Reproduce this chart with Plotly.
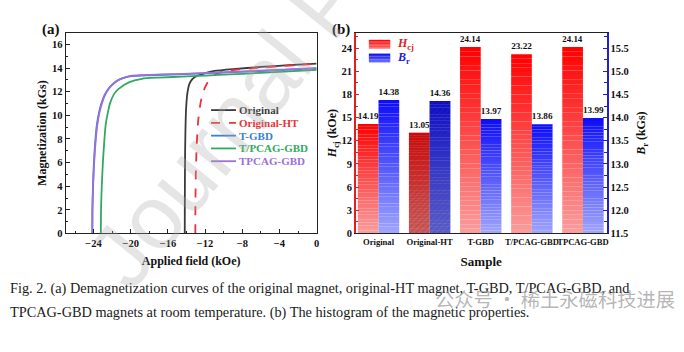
import plotly.graph_objects as go

# ---------------- data: panel (a) demagnetization curves ----------------
orig_H = [-14.19, -14.18, -14.15, -14.05, -13.9, -13.7, -13.4, -13.0, -12.5, -11.8, -11.0, -9.0, -6.0, -3.0, 0.0]
orig_M = [0.0, 3.0, 7.0, 10.5, 11.9, 12.65, 13.05, 13.3, 13.45, 13.62, 13.76, 13.92, 14.1, 14.25, 14.38]

ht_H = [-13.05, -13.04, -13.0, -12.9, -12.75, -12.5, -12.2, -11.8, -11.4, -10.8, -10.0, -8.0, -5.0, -2.0, 0.0]
ht_M = [0.0, 2.5, 5.0, 7.5, 9.5, 11.0, 12.0, 12.7, 13.15, 13.5, 13.72, 13.92, 14.1, 14.27, 14.36]

tgbd_H = [-24.14, -24.13, -24.07, -23.98, -23.84, -23.65, -23.4, -23.12, -22.8, -22.4, -21.95, -21.35, -20.65, -19.9, -18.0, -15.0, -11.0, -7.0, -3.0, 0.0]
tgbd_M = [0.0, 2.0, 4.0, 5.8, 7.6, 9.2, 10.3, 11.1, 11.75, 12.25, 12.65, 13.0, 13.2, 13.33, 13.4, 13.48, 13.6, 13.72, 13.87, 13.97]

tp_H = [-23.22, -23.2, -23.12, -23.0, -22.85, -22.7, -22.45, -22.2, -21.8, -21.3, -20.2, -18.8, -17.0, -14.0, -10.0, -6.0, -3.0, 0.0]
tp_M = [0.0, 2.0, 4.0, 6.0, 7.8, 9.2, 10.3, 11.1, 11.8, 12.25, 12.8, 13.1, 13.2, 13.3, 13.45, 13.6, 13.73, 13.86]

tpc_H = [-24.14, -24.12, -24.05, -23.95, -23.8, -23.6, -23.35, -23.07, -22.75, -22.36, -21.9, -21.3, -20.6, -19.86, -18.0, -15.0, -11.0, -7.0, -3.0, 0.0]
tpc_M = [0.0, 2.0, 4.0, 5.8, 7.6, 9.2, 10.3, 11.1, 11.75, 12.25, 12.65, 13.0, 13.22, 13.36, 13.43, 13.5, 13.62, 13.75, 13.9, 13.99]

curve_names = ["Original", "Original-HT", "T-GBD", "T/PCAG-GBD", "TPCAG-GBD"]

# ---------------- data: panel (b) histogram ----------------
samples = ["Original", "Original-HT", "T-GBD", "T/PCAG-GBD", "TPCAG-GBD"]
hcj = [14.19, 13.05, 24.14, 23.22, 24.14]
br = [14.38, 14.36, 13.97, 13.86, 13.99]
BR_BASE = 11.5

SERIF = "Liberation Serif"
W, Hh = 684, 352
def px(x):
    return x / W
def py(y):
    return 1 - y / Hh

fig = go.Figure()

curves = [
    (orig_H, orig_M, curve_names[0], "#3b3b3b", "solid"),
    (ht_H, ht_M, curve_names[1], "#e8333a", "dash"),
    (tgbd_H, tgbd_M, curve_names[2], "#3a7fd5", "solid"),
    (tp_H, tp_M, curve_names[3], "#32a860", "solid"),
    (tpc_H, tpc_M, curve_names[4], "#9a70dc", "solid"),
]
shapes = []
annots = []
for k, (H, M, name, col, dash) in enumerate(curves):
    fig.add_trace(go.Scatter(
        x=H, y=M, mode="lines", xaxis="x", yaxis="y",
        line=dict(color=col, width=1.8, dash=dash, shape="spline", smoothing=0.6),
        name=name, showlegend=False, hoverinfo="skip"))
    # compact legend entry (panel a)
    ly = 112 + k * 13
    shapes.append(dict(type="line", xref="paper", yref="paper", x0=px(212), x1=px(237),
                       y0=py(ly), y1=py(ly), line=dict(color=col, width=1.8, dash="dash" if dash == "dash" else "solid")))
    annots.append(dict(text=name, x=px(238), y=py(ly), xref="paper", yref="paper",
                       xanchor="left", yanchor="middle", showarrow=False,
                       font=dict(family=SERIF, size=11, color=col, weight="bold")))

# gradient bars via stacked segments
N = 40
def lerp(c0, c1, t):
    return "rgb(%d,%d,%d)" % tuple(round(a + (b - a) * t) for a, b in zip(c0, c1))

red_bot, red_top = (250, 158, 158), (255, 0, 0)
blue_bot, blue_top = (160, 166, 252), (12, 12, 250)

barfont = dict(family=SERIF, size=10.5, color="#111", weight="bold")
for i in range(N):
    t = (i + 0.5) / N
    last = i == N - 1
    fig.add_trace(go.Bar(
        x=samples, y=[v / N for v in hcj], base=[v * i / N for v in hcj],
        xaxis="x2", yaxis="y3", offsetgroup="H",
        marker=dict(color=lerp(red_bot, red_top, t), line=dict(width=0)),
        text=[f"{v:.2f}" for v in hcj] if last else None,
        textposition="outside" if last else "none",
        textfont=barfont, cliponaxis=False, showlegend=False, hoverinfo="skip"))
    fig.add_trace(go.Bar(
        x=samples, y=[(v - BR_BASE) / N for v in br],
        base=[BR_BASE + (v - BR_BASE) * i / N for v in br],
        xaxis="x2", yaxis="y4", offsetgroup="B",
        marker=dict(color=lerp(blue_bot, blue_top, t), line=dict(width=0)),
        text=[f"{v:.2f}" for v in br] if last else None,
        textposition="outside" if last else "none",
        textfont=barfont, cliponaxis=False, showlegend=False, hoverinfo="skip"))

# hatch on Original-HT
hatch_h = [v if s == "Original-HT" else None for s, v in zip(samples, hcj)]
hatch_b = [v - BR_BASE if s == "Original-HT" else None for s, v in zip(samples, br)]
fig.add_trace(go.Bar(
    x=samples, y=hatch_h, base=[0] * len(samples), xaxis="x2", yaxis="y3", offsetgroup="H",
    marker=dict(color="rgba(160,10,10,0.45)", line=dict(width=0),
                pattern=dict(shape="/", fillmode="overlay", size=4, solidity=0.2)),
    showlegend=False, hoverinfo="skip"))
fig.add_trace(go.Bar(
    x=samples, y=hatch_b, base=[BR_BASE] * len(samples), xaxis="x2", yaxis="y4", offsetgroup="B",
    marker=dict(color="rgba(10,10,150,0.45)", line=dict(width=0),
                pattern=dict(shape="/", fillmode="overlay", size=4, solidity=0.2)),
    showlegend=False, hoverinfo="skip"))

# compact legend for panel b: gradient swatches + labels
leg_b = [("<i>H</i><sub>cj</sub>", red_bot, red_top, "#e02020", 45),
         ("<i>B</i><sub>r</sub>", blue_bot, blue_top, "#1a1ae0", 59)]
S = 6
for label, cb, ct, tc, cy in leg_b:
    top, bot = cy - 4.5, cy + 4.5
    for j in range(S):
        y0 = bot - (bot - top) * j / S
        y1 = bot - (bot - top) * (j + 1) / S
        shapes.append(dict(type="rect", xref="paper", yref="paper", x0=px(370.5), x1=px(392),
                           y0=py(y0), y1=py(y1), line=dict(width=0),
                           fillcolor=lerp(cb, ct, 0.35 + 0.65 * (j + 0.5) / S)))
    annots.append(dict(text=label, x=px(397), y=py(cy), xref="paper", yref="paper",
                       xanchor="left", yanchor="middle", showarrow=False,
                       font=dict(family=SERIF, size=12, color=tc, weight="bold")))

tickf = dict(family=SERIF, size=10.5, color="#111", weight="bold")
titlef = dict(family=SERIF, size=12, color="#111", weight="bold")
dom_a = [px(66), px(318)]
dom_b = [px(357.3), px(609.3)]
dom_y = [py(237.5), py(33.3)]

fig.update_layout(
    width=W, height=Hh, margin=dict(l=0, r=0, t=0, b=0),
    paper_bgcolor="white", plot_bgcolor="white",
    barmode="group", bargap=0.19, bargroupgap=0,
    showlegend=False,
    xaxis=dict(domain=dom_a, range=[-27, 0], anchor="y", tick0=0, dtick=4,
               ticks="inside", ticklen=4, tickcolor="#222", showline=True, linecolor="#222",
               linewidth=1.3, mirror=True, showgrid=False, zeroline=False,
               minor=dict(dtick=2, ticks="inside", ticklen=2.5, tickcolor="#222"),
               tickfont=tickf, title=dict(text="Applied field (kOe)", font=titlef, standoff=8)),
    yaxis=dict(domain=dom_y, range=[0, 17], anchor="x", dtick=2,
               ticks="inside", ticklen=4, tickcolor="#222", showline=True, linecolor="#222",
               linewidth=1.3, mirror=True, showgrid=False, zeroline=False,
               minor=dict(dtick=1, ticks="inside", ticklen=2.5, tickcolor="#222"),
               tickfont=tickf, title=dict(text="Magnetization (kGs)", font=titlef, standoff=2)),
    xaxis2=dict(domain=dom_b, range=[-0.446, 4.463], anchor="y3", type="category",
                ticks="", showline=True, linecolor="#222", linewidth=1.3, mirror=True,
                showgrid=False, zeroline=False, tickangle=0,
                tickfont=dict(family=SERIF, size=8.6, color="#111", weight="bold"),
                title=dict(text="Sample", font=dict(family=SERIF, size=13, color="#111", weight="bold"),
                           standoff=10)),
    yaxis3=dict(domain=dom_y, range=[0, 26], anchor="x2", dtick=3, side="left",
                ticks="inside", ticklen=4, tickcolor="#e02020", showline=True, linecolor="#e02020",
                linewidth=1.5, showgrid=False, zeroline=False,
                minor=dict(dtick=1.5, ticks="inside", ticklen=2.5, tickcolor="#e02020"),
                tickfont=tickf,
                title=dict(text="<i>H</i><sub>cj</sub> (kOe)", font=titlef, standoff=2)),
    yaxis4=dict(domain=dom_y, range=[11.5, 11.5 + 26 / 6], anchor="x2", overlaying="y3", side="right",
                tick0=11.5, dtick=0.5, tickformat=".1f",
                ticks="inside", ticklen=4, tickcolor="#2020d0", showline=True, linecolor="#2020d0",
                linewidth=1.5, showgrid=False, zeroline=False,
                minor=dict(dtick=0.25, ticks="inside", ticklen=2.5, tickcolor="#2020d0"),
                tickfont=tickf,
                title=dict(text="<i>B</i><sub>r</sub> (kGs)", font=titlef, standoff=9)),
    shapes=shapes,
)
for a in annots:
    fig.add_annotation(**a)

# panel labels
fig.add_annotation(text="(a)", x=px(40), y=py(30), xref="paper", yref="paper",
                   xanchor="left", yanchor="middle", showarrow=False,
                   font=dict(family=SERIF, size=15, color="#111", weight="bold"))
fig.add_annotation(text="(b)", x=px(331), y=py(30), xref="paper", yref="paper",
                   xanchor="left", yanchor="middle", showarrow=False,
                   font=dict(family=SERIF, size=15, color="#111", weight="bold"))

# caption
fig.add_annotation(text="Fig. 2. (a) Demagnetization curves of the original magnet, original-HT magnet, T-GBD, T/PCAG-GBD, and",
                   x=px(8), y=py(293), xref="paper", yref="paper", xanchor="left", yanchor="middle",
                   showarrow=False, font=dict(family=SERIF, size=14.3, color="#1a1a1a"))
fig.add_annotation(text="TPCAG-GBD magnets at room temperature. (b) The histogram of the magnetic properties.",
                   x=px(8), y=py(318), xref="paper", yref="paper", xanchor="left", yanchor="middle",
                   showarrow=False, font=dict(family=SERIF, size=14.3, color="#1a1a1a"))

# watermarks
fig.add_annotation(text="公众号 · 稀土永磁科技进展", x=px(435), y=py(304), xref="paper", yref="paper",
                   xanchor="left", yanchor="middle", showarrow=False,
                   font=dict(family="Noto Sans CJK SC", size=19.3, color="rgba(150,150,150,0.7)"))
fig.add_annotation(text="Journal Pre-proof", x=px(327), y=py(4), xref="paper", yref="paper",
                   xanchor="center", yanchor="middle", showarrow=False, textangle=-51,
                   font=dict(family="Liberation Sans", size=90, color="rgba(170,170,170,0.3)"))

fig.write_html("out.html")
